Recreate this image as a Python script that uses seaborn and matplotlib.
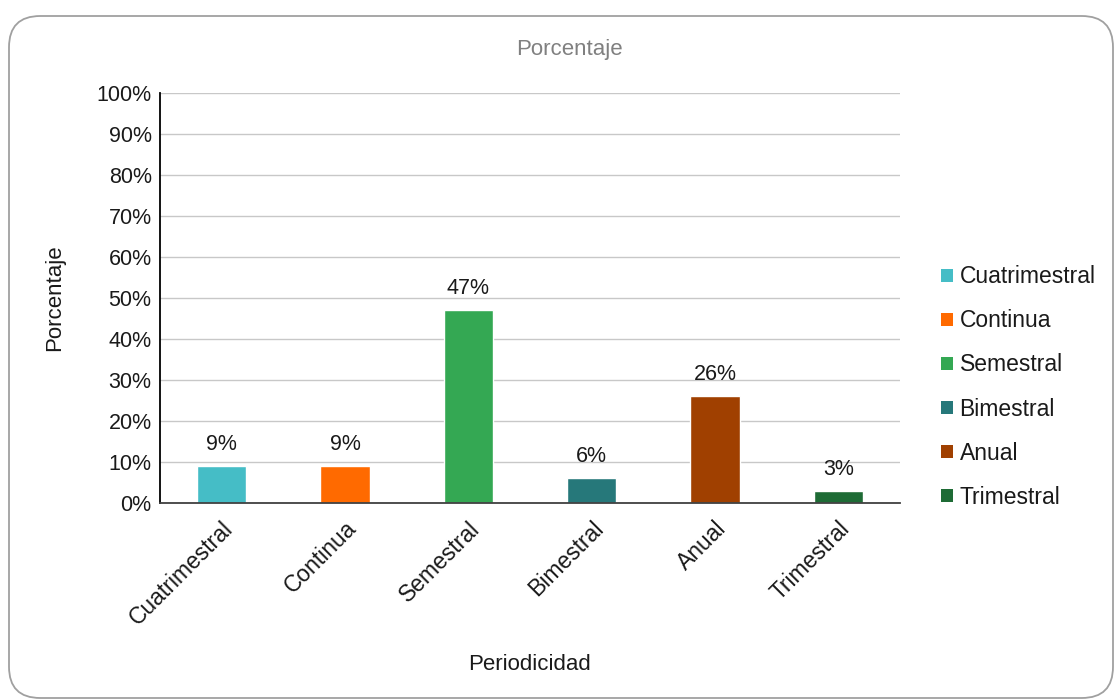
import matplotlib
matplotlib.use("Agg")
import matplotlib.pyplot as plt
import seaborn as sns
import pandas as pd
from matplotlib.patches import FancyBboxPatch, Patch

periodos = ["Cuatrimestral", "Continua", "Semestral", "Bimestral", "Anual", "Trimestral"]
porcentajes = [9, 9, 47, 6, 26, 3]
colores = ["#45BDC6", "#FF6A00", "#34A853", "#26787A", "#A04000", "#1E6B35"]
ticks_y = list(range(0, 101, 10))

sns.set_theme(style="white")
plt.rcParams["font.family"] = ["Liberation Sans", "DejaVu Sans"]

df = pd.DataFrame({"Periodicidad": periodos, "Porcentaje": porcentajes})

W, H = 1116, 700
fig = plt.figure(figsize=(W / 100, H / 100), dpi=100)
fig.patch.set_facecolor("white")

# marco redondeado como en la hoja de calculo
marco = FancyBboxPatch((9 / W, 2 / H), 1104 / W, 682 / H, transform=fig.transFigure,
                       boxstyle="round,pad=0,rounding_size=0.028",
                       facecolor="none", edgecolor="#a0a0a0", linewidth=1.3,
                       mutation_aspect=W / H)
fig.patches.append(marco)

ax = fig.add_axes([160 / W, 197 / H, 740 / W, 410 / H])
sns.barplot(data=df, x="Periodicidad", y="Porcentaje", hue="Periodicidad",
            palette=colores, width=0.4, legend=False, ax=ax, saturation=1)

ax.set_ylim(0, 100)
ax.set_xlim(-0.5, len(periodos) - 0.5)
ax.set_yticks(ticks_y)
ax.set_yticklabels([f"{t}%" for t in ticks_y], fontsize=15.5, color="#1a1a1a")
ax.yaxis.grid(True, color="#c8c8c8", linewidth=1)
ax.set_axisbelow(True)
for s in ["top", "right"]:
    ax.spines[s].set_visible(False)
ax.spines["left"].set_color("black")
ax.spines["bottom"].set_color("#404040")
ax.spines["left"].set_linewidth(1.3)
ax.spines["bottom"].set_linewidth(1.3)
ax.tick_params(axis="y", length=0, pad=6)
ax.tick_params(axis="x", length=0, pad=10)
plt.setp(ax.get_xticklabels(), rotation=45, ha="right", rotation_mode="anchor",
         fontsize=16.5, color="#1a1a1a")

for i, v in enumerate(porcentajes):
    ax.annotate(f"{v}%", (i, v), xytext=(0, 8), textcoords="offset points",
                ha="center", va="bottom", fontsize=15.5, color="#1a1a1a")

ax.set_xlabel("Periodicidad", fontsize=16, color="#1a1a1a")
ax.xaxis.set_label_coords(0.5, -0.395)
ax.set_ylabel("Porcentaje", fontsize=16, color="#1a1a1a")
ax.yaxis.set_label_coords(-0.142, 0.5)
ax.xaxis.label.set_va("center")
ax.yaxis.label.set_va("center")
fig.text(569 / W, 1 - 50 / H, "Porcentaje", fontsize=16, color="#808080",
         ha="center", va="center")

handles = [Patch(facecolor=c, edgecolor="none", label=p) for p, c in zip(periodos, colores)]
leg = fig.legend(handles=handles, loc="center left", bbox_to_anchor=(932 / W, 1 - 387 / H),
                 frameon=False, fontsize=16.5, handlelength=0.5, handleheight=0.5,
                 handletextpad=0.3, labelspacing=0.92, borderaxespad=0)
for t in leg.get_texts():
    t.set_color("#1a1a1a")

fig.savefig("out.png", dpi=100, facecolor="white")
